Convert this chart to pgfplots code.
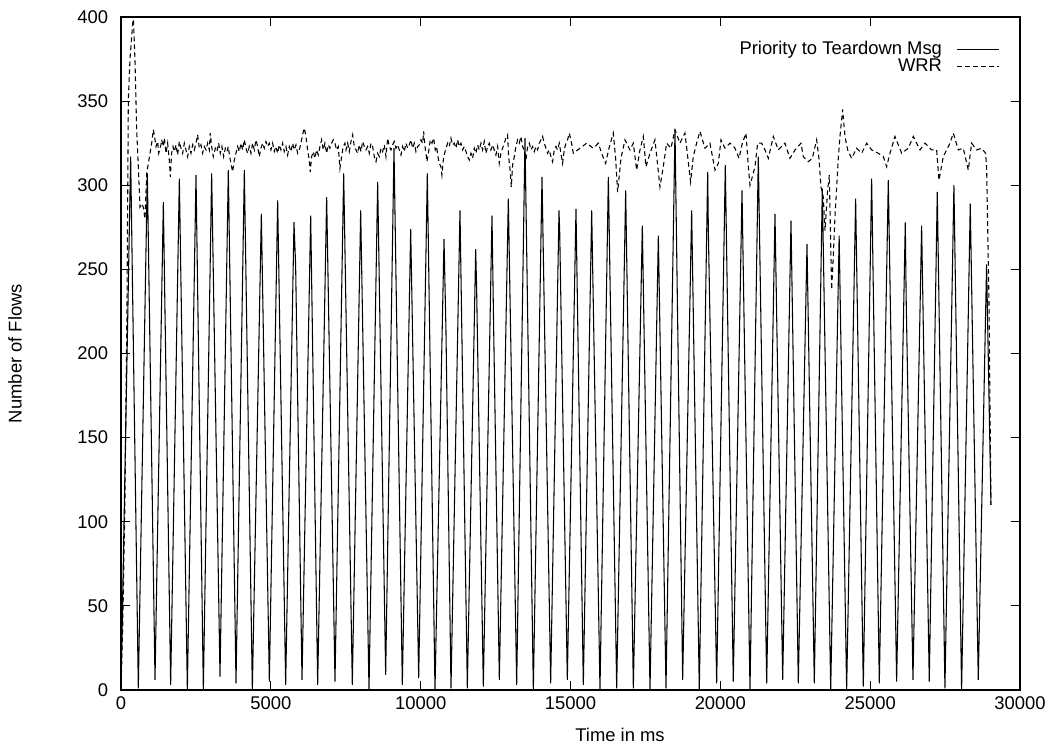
\documentclass[border=0pt]{standalone}
\usepackage{fontspec}
\setmainfont{Liberation Sans}
\usepackage{pgfplots}
\pgfplotsset{compat=1.18}
\begin{document}
\fontsize{13.8}{15}\selectfont
\begin{tikzpicture}
\begin{axis}[
  name=ax,
  scale only axis,
  width=674.25pt, height=504.75pt,
  xmin=0, xmax=30000, ymin=0, ymax=400,
  xtick={0,5000,...,30000}, ytick={0,50,...,400},
  scaled x ticks=false,
  /pgf/number format/set thousands separator={},
  /pgf/number format/fixed,
  /pgf/number format/assume math mode=true,
  tick align=inside, tick pos=both,
  major tick length=6.75pt,
  axis line style={line width=0.9pt},
  every tick/.style={black, line width=0.9pt},
  yticklabel style={inner xsep=9.5pt},
  xticklabel style={inner ysep=5pt},
  tick label style={font=\fontsize{13.8}{15}\selectfont},
  legend style={draw=none, fill=none, at={(rel axis cs:1,1)}, xshift=-15pt, yshift=-16pt,
    anchor=north east, font=\fontsize{13.8}{13}\selectfont, row sep=-3pt, inner sep=0pt},
  legend cell align=right,
  legend plot pos=right,
  legend image code/.code={\draw[#1] (0pt,0pt) -- (31.5pt,0pt);},
]
\addplot[black, line width=0.8pt] coordinates {
(0,0) (322,317) (578,1) (879,307) (1135,6) (1413,290) (1657,3) (1947,304)
(2214,0) (2503,306) (2748,0) (3025,307) (3304,8) (3581,309) (3838,4) (4116,309)
(4383,0) (4683,283) (4950,5) (5228,291) (5495,3) (5773,278) (5828,252) (6040,6)
(6330,282) (6563,3) (6863,293) (7141,5) (7431,307) (7719,3) (7998,285) (8276,0)
(8565,302) (8832,9) (9110,322) (9388,3) (9667,274) (9934,7) (10222,307) (10478,0)
(10779,268) (10844,214) (11012,1) (11312,285) (11557,1) (11836,262) (11867,239) (12091,2)
(12380,282) (12434,217) (12625,6) (12925,292) (13204,3) (13481,328) (13760,0)
(14049,305) (14338,4) (14616,285) (14640,272) (14894,6) (15183,286) (15428,3)
(15707,285) (15984,0) (16263,305) (16541,1) (16841,297) (17097,1) (17397,276)
(17653,0) (17931,270) (18187,1) (18487,333) (18743,6) (19043,285) (19298,0)
(19578,308) (19600,273) (19878,4) (20166,312) (20432,5) (20723,297) (20990,0)
(21267,317) (21547,4) (21824,283) (22081,6) (22358,279) (22602,4) (22892,265)
(23136,4) (23403,298) (23683,0) (23965,270) (24215,0) (24515,292) (24771,2)
(25049,304) (25305,4) (25605,303) (25883,5) (26172,278) (26200,234) (26428,6)
(26717,276) (26972,5) (27239,296) (27495,1) (27795,300) (28051,0) (28340,289)
(28607,6) (28885,253) (29031,110)
};
\addlegendentry{Priority to Teardown Msg\kern9pt}
\addplot[black, line width=0.8pt, dash pattern=on 3.5pt off 2.5pt] coordinates {
(0,0) (60,40) (130,110) (200,230) (245,351) (300,375) (411,401) (467,374)
(523,333) (578,311) (634,287) (690,289) (745,287) (801,280) (857,307) (912,313)
(1024,325) (1079,333) (1112,330) (1168,323) (1223,326) (1257,319) (1312,322)
(1357,327) (1412,323) (1446,328) (1501,319) (1557,325) (1612,315) (1646,305)
(1690,319) (1735,323) (1779,320) (1835,324) (1890,318) (1946,326) (2002,322)
(2057,319) (2113,325) (2168,321) (2224,317) (2280,323) (2335,319) (2391,324)
(2446,321) (2502,325) (2558,330) (2613,322) (2669,324) (2724,319) (2780,323)
(2836,321) (2891,325) (2947,321) (2980,331) (3025,323) (3080,317) (3147,322)
(3203,320) (3258,325) (3314,319) (3369,323) (3425,317) (3481,322) (3536,320)
(3581,323) (3625,317) (3670,313) (3725,308) (3781,315) (3836,319) (3892,323)
(3948,320) (4003,325) (4059,321) (4114,327) (4170,322) (4226,319) (4281,323)
(4337,319) (4392,325) (4448,321) (4504,327) (4559,323) (4615,317) (4670,322)
(4726,325) (4782,322) (4837,326) (4893,323) (4948,325) (5004,321) (5060,325)
(5115,320) (5171,323) (5226,319) (5282,324) (5338,321) (5393,325) (5449,320)
(5504,323) (5560,318) (5616,323) (5671,320) (5727,325) (5782,321) (5838,324)
(5894,319) (5949,321) (6005,325) (6060,330) (6116,334) (6172,329) (6227,321)
(6283,315) (6316,308) (6361,317) (6416,320) (6472,316) (6527,321) (6583,318)
(6639,323) (6694,327) (6750,321) (6805,325) (6861,319) (6917,324) (6972,322)
(7028,325) (7083,327) (7139,325) (7195,321) (7250,323) (7306,310) (7361,317)
(7417,323) (7473,325) (7508,321) (7564,325) (7619,320) (7675,326) (7730,330)
(7786,323) (7842,321) (7897,319) (7953,324) (8008,320) (8064,326) (8120,323)
(8175,321) (8231,323) (8286,319) (8342,325) (8398,323) (8453,317) (8509,314)
(8564,319) (8620,317) (8676,322) (8731,320) (8787,324) (8842,317) (8898,328)
(8954,323) (9009,321) (9065,324) (9120,326) (9176,322) (9232,324) (9287,321)
(9343,318) (9398,323) (9454,320) (9510,325) (9565,322) (9621,324) (9676,327)
(9732,322) (9788,325) (9843,320) (9899,323) (9954,324) (10010,327) (10066,325)
(10099,332) (10144,323) (10177,319) (10210,314) (10266,320) (10321,327)
(10377,325) (10433,328) (10488,321) (10533,323) (10577,317) (10622,313)
(10677,311) (10710,306) (10755,315) (10800,319) (10844,322) (10900,325)
(10955,323) (11011,328) (11066,324) (11122,325) (11178,322) (11233,327)
(11289,323) (11344,325) (11400,321) (11456,323) (11511,320) (11567,317)
(11622,315) (11678,319) (11734,316) (11789,322) (11845,319) (11900,324)
(11956,321) (12012,325) (12067,321) (12123,326) (12178,319) (12234,323)
(12290,325) (12345,321) (12401,324) (12456,321) (12512,318) (12568,323)
(12623,313) (12679,319) (12734,322) (12790,325) (12846,328) (12901,330)
(12935,317) (12979,310) (13024,299) (13068,312) (13124,317) (13179,323)
(13235,327) (13290,325) (13346,329) (13402,323) (13457,321) (13513,315)
(13568,323) (13624,325) (13680,321) (13735,323) (13790,320) (13846,323)
(13902,321) (13958,325) (14013,327) (14069,329) (14124,325) (14180,322)
(14236,319) (14291,321) (14347,317) (14402,314) (14458,321) (14514,323)
(14569,321) (14625,325) (14680,319) (14736,313) (14791,321) (14847,325)
(14902,327) (14958,331) (15014,327)
(15094,319) (15316,322) (15539,325) (15761,322) (15928,325) (16039,319)
(16173,313) (16284,322) (16428,331) (16506,316) (16573,296) (16684,316)
(16818,327) (16984,321) (17096,325) (17207,309) (17318,321) (17429,329)
(17518,311) (17652,319) (17818,327) (17985,299) (18096,311) (18208,325)
(18352,322) (18486,333) (18652,325) (18819,331) (19008,302) (19097,317)
(19208,325) (19320,332) (19486,322) (19653,325) (19822,309) (19933,313)
(20022,327) (20156,322) (20322,325) (20489,322) (20623,316) (20734,325)
(20856,331) (20934,311) (20990,300) (21067,305) (21156,311) (21245,325)
(21379,325) (21490,321) (21601,316) (21768,329) (21935,321) (22157,325)
(22324,316) (22491,321) (22691,325) (22769,317) (22936,314) (23069,316)
(23214,327) (23291,316) (23358,299) (23436,293) (23492,273) (23580,297)
(23636,306) (23714,238) (23770,258) (23825,281) (23936,316) (23992,329)
(24081,345) (24159,329) (24248,321) (24381,316) (24548,322) (24715,319)
(24882,325) (25049,321) (25272,319) (25439,317) (25550,311) (25661,319)
(25828,329) (26050,319) (26273,322) (26439,329) (26662,321) (26829,325)
(27051,321) (27218,321) (27296,303) (27440,317) (27663,325) (27774,331)
(27941,321) (28107,322) (28274,309) (28385,325) (28552,321) (28719,322)
(28852,319) (28886,311) (28964,232) (29031,110)
};
\addlegendentry{WRR\kern9pt}
\end{axis}
\node[rotate=90] at ([xshift=-79.5pt]ax.west) {Number of Flows};
\node at ([xshift=374.25pt, yshift=-33.75pt]ax.south west) {Time in ms};
\pgfresetboundingbox
\path ([xshift=-90.75pt,yshift=-42pt]ax.south west) rectangle ([xshift=27.75pt,yshift=12.75pt]ax.north east);
\end{tikzpicture}
\end{document}
